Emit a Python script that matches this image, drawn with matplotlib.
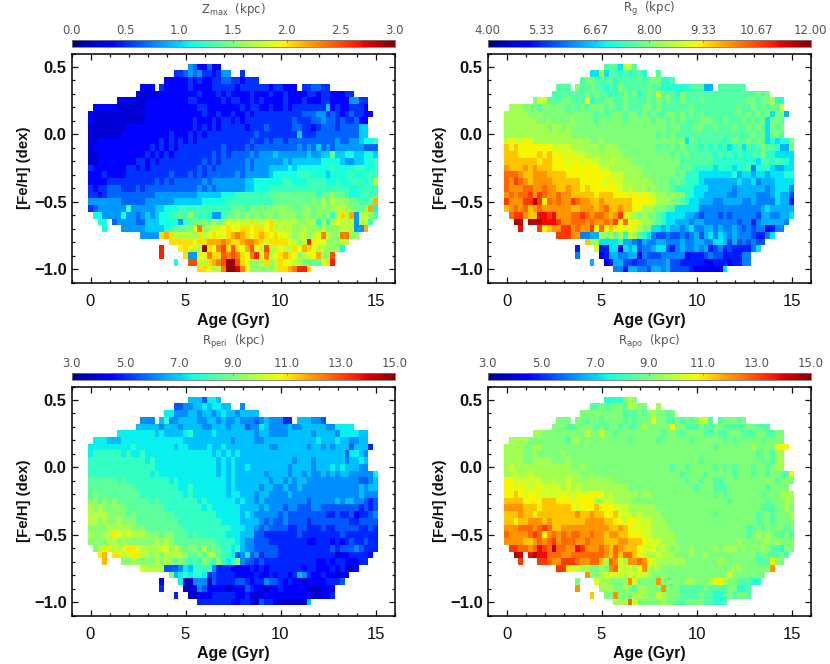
import numpy as np
import matplotlib
matplotlib.use("Agg")
import matplotlib.pyplot as plt
from matplotlib.ticker import MultipleLocator

plt.rcParams["font.family"] = ["Liberation Sans", "DejaVu Sans"]
plt.rcParams["mathtext.fontset"] = "dejavusans"

# === Bins ===
ages = np.arange(61) * 0.25
fehs = 0.5 - np.arange(31) * 0.05

# === Cell colours, one row per [Fe/H] bin, top row first ===
# each character is a step of 1/20 of the colour bar (0-9 then a-j), dot = empty, blanks only group by ten
zmax_rows = [
    ".......... .......... .5422422",
    ".......... ........33 4545332355 ..3",
    ".......... ......2222 2323223344 332333",
    ".......... .222.32222 2322223333 3233333323 3222.33443 3",
    ".......... 2111122222 2223222323 2222322232 2322223323 322233",
    "......2222 1122222222 2332222232 3322323222 2322232223 322225533.",
    ".222221111 1122222222 2223322222 2232332232 2323333333 623223332.",
    "2111111111 1122222222 2222322322 3223233333 3333344455 3432343322",
    "2111111111 1122222222 2232223233 2323333333 3334333445 443433422.",
    "1111111122 2222222222 2232323233 3332333433 3334433234 443444466.",
    "1111111222 2222222322 2323233333 3333343333 3333633344 444444466.",
    "1122222222 2222232323 2323333333 3333433434 4344444444 4454455677 8",
    "1222222222 2223232323 3333333343 3334344444 4444545464 5455555544 4",
    "1122222222 2232323233 3333334343 4444545556 5555556556 6966776677 6",
    "1122222222 3323233333 3333434344 4445455555 5656666667 7776556677 8",
    "3222222233 2323333333 3334343444 4445455566 6676777777 7877778877 8",
    "2223222233 3333333433 3434344444 4545555567 7777888777 6777887788 8",
    "2222333333 3333434344 4444545555 5556677777 7887778888 7787788878 b",
    "3233444333 4344444444 4445454555 5556677788 8888888888 8888877888 8",
    "3323444444 4444555555 5556666677 7888888899 9999999989 9a99877888 9",
    "5555555444 4455555566 6666777778 8888888889 9999999a9b 9baaa99889 e",
    "3455555585 5555667778 8888888888 9998a9a9aa aaa99aa9aa aabbaa99ae 7",
    ".775555755 4565677889 8a88875589 9a9a9a9aa9 aaaa9aa9a9 a8bdbe5bba 8",
    "..77.45555 4466677775 88a9a9b9ac bcbbdbbcdb bbbbaabb7b 7bcbbb5bb8.",
    "...7...555 5566667899 9acfabbccd ccddcddcdb bbbaabaaab aaabbb55e.",
    ".......... .5555dedbb bbadbcdccd efedcdedcd ccbabbabcf baaffaa",
    ".......... .......ddd ddcddeeefe ddeffedcdd ddcbabhccc aaabb",
    ".......... .....h...c dcbbjdcfgd gdcegcbgbb cbbdcedcbb aaa7",
    ".......... .....h.... d55ccfddgf gfdcfhcfbc dedcabccea ag",
    ".......... ........7. .ggbbdefgj jgdcaabdab dccbb9999c dh",
    ".......... .......... ...ddcbbfj jifcaaaaab ddefhhd",
]
rg_rows = [
    ".......... .......... .9997cc9",
    ".......... ........77 b799898998 ..9",
    ".......... ......9aa9 99a8999999 9aa889",
    ".......... .999.a99a9 9898a99999 a998888889 9966.99999 9",
    ".......... 9999999a9a 99899a9a89 a9c9a98a99 9999999999 999a9a",
    "......acc9 99aa999d89 9aa99a9999 a9a9a99a99 9a99999999 9aa9aab88.",
    ".bbbaaa9aa aaa9a9a9aa a9a99a999a a9a999999a 999999999a 99a9a9a9c.",
    "bbbbbaabaa aaaaaaaaa9 a9aaa9aa9a 9a99aa9a9a 9a9999999a 9a9a9a7aa6",
    "bbbbbbbaab aaaabaaaa9 aaaaa9aaaa a9aa9a9a99 9aaa99a999 a9a9a7aa9.",
    "bbbbbbbbba bbabaaaaaa aaaaaaaaaa aaaa9aa999 aa99a999a9 9a9a97a9a.",
    "bbbbbbbbbb bbbbaaaaaa aaaaaaaaaa aa9a9a9999 9999999999 99a9a7aa9.",
    "cdccdcbbbb bbbbbbbbaa baaaaaaaaa aaaaaaaa7a 99999989a9 9a9a978788 a",
    "ededdddddd ccccbbbbbb abbbaaaaaa aa9a9a9a99 9898989789 7989a99866 a",
    "eeeddddede ddcdcccbbb bbbbbaaaaa aaaaa9a9a9 9999898989 8899a88777 7",
    "eeeeeeedee dddcddcdcc bbcbbbbaaa aaaaaaa999 9999888888 8887998988 7",
    "feeefefeee dddddddddd ccbbbbbbba aaaaaaa9a9 8888788878 8958887667 7",
    "gggfeefffe eeeddddddd ddcccbbbba aaaaaa9a88 8777777786 7767767778 8",
    "gfhgfeffff eeeeeedddd dcdccbbbbb baaaa9a988 8766666667 6675666777 7",
    "gfffggffgf feefeededd ddddcbcbbb abaaa98888 7776666656 6666656777 5",
    "fgfgghfhgf fgffeeeeed eeedddcdcd ccbbabaa88 7766666556 6665556766 4",
    "hfffhhjhdg fgffhgffee feeeeeeddd dcbbbaa987 7666556666 5565555766 3",
    "efgfgefgff ffffeefffe fgeefeeddb bbaa997777 7555555555 5555676666 6",
    ".ghhfeeiih ifffgghgfg gfefhdcbab aa98777766 5455545455 5554665566 7",
    "..jj.jjjii ihffgggfgf fgfhdgcdcb ba98776665 6655555554 5535666665.",
    "...i...hde ffhhfgffhd gdeddcdcba a776766567 5566565565 454552355.",
    ".......... .hhhff5566 bab9b8cb98 7544544545 6467576565 5543357",
    ".......... .......ebb 7777866546 5566555655 6655776464 54544",
    ".......... .....3...c 3377276745 5677435655 6563453433 3357",
    ".......... .....5.... 2366556625 4445555523 3345443333 55",
    ".......... ........6. .236644344 5555644333 3322333233 55",
    ".......... .......... ...5536655 4665644443 2222227",
]
rperi_rows = [
    ".......... .......... .6664776",
    ".......... ........44 5566767766 ..5",
    ".......... ......7755 5665665676 656666",
    ".......... .555.6855 6666556656 5565554565 5533.66655 4",
    ".......... 6666656665 6666556665 6664557655 5565566666 557777",
    "......7777 7777676666 7866667666 6666656655 5566666566 665777766.",
    ".777666777 7777777777 6666666666 5666655666 6666666676 667665566.",
    "7777777778 7777777767 7666676676 6666666655 6666665665 6566646663",
    "7888888787 7877777777 7777776767 6766666666 6666666666 666647765.",
    "8888888888 8878777777 7777777676 7666666666 6665666566 666656676.",
    "8888888888 8888777777 7777777676 7667666666 6656666566 676766655.",
    "8888888888 8887877777 7777777676 7666666566 6656656556 5656655555 7",
    "9999998988 8888888787 7777777776 7666666656 6565665555 5555555445 6",
    "9999999999 8888888887 7877777776 7666665665 5655655555 5555555656 6",
    "9a99999999 9888888888 7877777776 7766656655 5565555555 5555555655 5",
    "aa9a9a9999 9998988888 8887877777 7676656555 5555554555 5565665543 4",
    "babaaaaa99 9999998888 8888787777 7766665655 5455444554 4444444343 4",
    "bbbbaaaa9a 9999999988 8888888777 7767655555 4544444444 3343342334 5",
    "bbabaabaaa 9999999998 8888888877 7766665454 4544443444 4444433444 4",
    "aaaabbbbba aa99999999 8888888888 7776654544 4433443334 3344444334 3",
    "baabbdcbcb bbaaa9aa99 9898888887 7766644333 3333433333 3334333333 3",
    "aaaabbabaa aaaababa99 9999999888 8765544433 3333332233 3232343343 3",
    ".abcdbbcdd cbbbbccaca 9aa9b9a988 7865544444 3333333333 3434445433 3",
    "..de.ddbcd dbbababbbb a99a9bb988 7457453444 3333333333 3312233332.",
    "...e...aab aaaababa9a 9898a98a87 8a54434333 3333333322 323322233.",
    ".......... .cbbbb4445 7688885333 2222323233 3333323322 2323112",
    ".......... .......a67 8788734333 3222232232 3323653223 22122",
    ".......... .....2...7 1155514333 3443233544 3232212222 3334",
    ".......... .....3.... 1125422221 2224322122 3222221112 22",
    ".......... ........3. .112223333 3223212222 2222222112 23",
    ".......... .......... ...3333333 2233214332 1111116",
]
rapo_rows = [
    ".......... .......... .8888aba",
    ".......... ........99 a9aaa9cbaa ..b",
    ".......... ......aaaa aaaaa999a9 bbaa9a",
    ".......... .aaa.aa9aa 9aaaa9a9aa adaa99a9a9 acc9.9aaa9 a",
    ".......... aaa99aaaa9 a9aa9a99ab aaaaadaa99 9a99aa9999 9aa999",
    "......bbaa aaaaaaacaa caa9aaaaaa aaa9aaa9aa aa99a99aaa 999aa99aa.",
    ".bbbbaaaaa aaa9bbaaaa aaaaaa9aaa aa9aaaaaa9 aaaaaa9a9a aaaa9aaaa.",
    "bbbbaabbaa aaaaaaaaaa aaaaaaaaaa aaaaaaaaaa aaaa9aaaaa aabaaaaddd",
    "bbbbaabaaa aabaaaaaaa aaaaaaaaaa aaaaaaaaaa aaaaaaaaaa aaa9aa9bb.",
    "bbbbaabbbb aaabaaaaaa aaaaaaaaaa aaaaaaaaaa a9aaaaaaaa aaaa9a9bb.",
    "bcbbbbbbbb bbbbaabaaa aaaaaaaaaa aaaaa9aa9a aaaa9a9a9a aa9aa9abb.",
    "bbcbbcbbbb bbbbbbaaba aaaaaaaaaa aaaaaaa9aa aa9aaaaa9a aa9aa9aa99 d",
    "ddccccccbb cbbcbbbbbb bbbaaaaaaa aaaaaaaa9a a9aa99aaaa aaaaaba9aa a",
    "ddcdcccdcc ccbcbcbbbb bbbbbbaaaa aaaaaaaaaa 9aaa999aaa aaaaa9aaaa .",
    "ddedcddccc ccdccdcddd dbcbbbbbab baaaaaaaaa aaaa9a9aaa aaaa9aaabb b",
    "eeeeddddee edddcddddb bccbbbbaaa aaaaaaaaaa aaaaaaa9aa aaaaa9aaab b",
    "ffffeeedee eeeedcddde dddcccbbbb bbaaaaaaaa aaaaaaaaaa aaaa999aab a",
    "eeefeedeee eeeeefeefe eddecccbcb bbbaaaaaaa aaaa9aaaaa aaa9aa9aaa b",
    "eedeefffef eeeeeeefff feeddcddcc cbbbaaaaaa aaaaaaaaaa aaa9aa9aaa a",
    "fffgggfghg eeffffffff ffeefedcdc cbbbbaaaaa aaaaaaaaaa a99a9aaaa9 a",
    "gffffghgdf gfgfggffgf feffeedddc cbbbbbaaaa aaaaaaaaaa a9ababa99a 9",
    "ffffeefgfg hfgggffgff feeeffeeed cccbbbaaaa aaaaaaaaab aaaabbabaa a",
    ".hhggfgihg jggffihfff gfegfeeedc cdbcbabaab aaaababbba bababa998a a",
    "..jj.ijiig ggffgggggg gfegeggedc bbcbbbaaab aabaaaaaaa aaa9aa99a9.",
    "...h...hhg ffhhhgffgg ebgfcbffgf dcbbbbbbaa aaaaabaaaa aaa999daa.",
    ".......... .hhdccbbaa bafgcccbdf bbbaaaaaaa aaaaaaaabb aaaaaaf",
    ".......... .......faa bcdccbcccc baaaaaaaaa aaaaaaadaa aaaaa",
    ".......... .....a...c bbaaabfcaa aafaaaaabb aaabddbaa9 9988",
    ".......... .....f.... bbbaaba9bb aaafaaa999 99a9999aa8 89",
    ".......... ........e. .aafaaabbb aacbaaa999 9a99889a9a a9",
    ".......... .......... ...bbbgcaa aaabaa99aa aa99889",
]

z_ticks = ["0.0", "0.5", "1.0", "1.5", "2.0", "2.5", "3.0"]
rg_ticks = ["4.00", "5.33", "6.67", "8.00", "9.33", "10.67", "12.00"]
r_ticks = ["3.0", "5.0", "7.0", "9.0", "11.0", "13.0", "15.0"]

W, H = 830, 664
TEXT = "#111111"
BAR_TEXT = "#555555"


def decode(rows, vmin, vmax, lift):
    grid = np.full((len(fehs), len(ages)), np.nan)
    for i, row in enumerate(rows):
        for j, ch in enumerate(row.replace(" ", "")):
            if ch != ".":
                grid[i, j] = vmin + (int(ch, 36) + lift) / 20 * (vmax - vmin)
    return np.ma.masked_invalid(grid)


def box(left, top, right, bottom):
    return [left / W, 1 - bottom / H, (right - left) / W, (bottom - top) / H]


def panel(fig, left, top, rows, labels, title, lift=0.0):
    right = left + 323
    vmin, vmax = float(labels[0]), float(labels[-1])
    ax = fig.add_axes(box(left, top, right, top + 229))
    mesh = ax.pcolormesh(ages, fehs, decode(rows, vmin, vmax, lift), cmap="jet",
                         vmin=vmin, vmax=vmax, shading="nearest")
    ax.set_xlim(-1, 16)
    ax.set_ylim(-1.1, 0.6)
    ax.xaxis.set_major_locator(MultipleLocator(5))
    ax.xaxis.set_minor_locator(MultipleLocator(1))
    ax.yaxis.set_major_locator(MultipleLocator(0.5))
    ax.yaxis.set_minor_locator(MultipleLocator(0.1))
    ax.tick_params(which="major", direction="in", top=True, right=True, length=4, width=0.9,
                   labelsize=12, colors=TEXT)
    ax.tick_params(which="minor", direction="in", top=True, right=True, length=2, width=0.9, colors=TEXT)
    ax.tick_params(axis="x", which="major", pad=8)
    ax.tick_params(axis="y", which="major", pad=3.5)
    for lab in ax.get_yticklabels():
        lab.set_fontweight("bold")
    for spine in ax.spines.values():
        spine.set_linewidth(1.1)
    ax.set_xlabel("Age (Gyr)", fontsize=11.5, fontweight="bold", color=TEXT, labelpad=3)
    ax.set_ylabel("[Fe/H] (dex)", fontsize=10.8, fontweight="bold", color=TEXT, labelpad=2)

    cax = fig.add_axes(box(left, top - 13.5, right, top - 6.5))
    bar = fig.colorbar(mesh, cax=cax, orientation="horizontal",
                       ticks=np.linspace(vmin, vmax, len(labels)))
    bar.ax.xaxis.set_ticks_position("top")
    bar.ax.set_xticklabels(labels, family="DejaVu Sans")
    bar.ax.tick_params(direction="in", length=1.5, width=0.5, pad=2.5, labelsize=8.5, colors=BAR_TEXT)
    bar.outline.set_linewidth(0.6)
    bar.outline.set_edgecolor("#777777")
    fig.text((left + right) / 2 / W, 1 - (top - 44.5) / H, title, ha="center", va="center",
             fontsize=8.5, color=BAR_TEXT, family="DejaVu Sans")


fig = plt.figure(figsize=(W / 100, H / 100), dpi=100)
panel(fig, 71.5, 53.5, zmax_rows, z_ticks, r"Z$_{\mathrm{max}}$  (kpc)", lift=0.5)
panel(fig, 487.5, 53.5, rg_rows, rg_ticks, r"R$_{\mathrm{g}}$  (kpc)")
panel(fig, 71.5, 386.5, rperi_rows, r_ticks, r"R$_{\mathrm{peri}}$  (kpc)", lift=0.25)
panel(fig, 487.5, 386.5, rapo_rows, r_ticks, r"R$_{\mathrm{apo}}$  (kpc)")
fig.savefig("out.png", dpi=100)
